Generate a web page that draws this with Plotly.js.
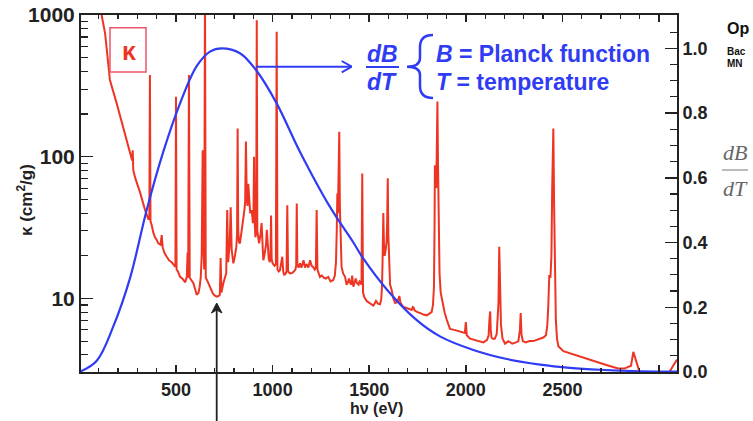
<!DOCTYPE html>
<html><head><meta charset="utf-8">
<script src="https://cdn.plot.ly/plotly-3.0.1.min.js"></script>
<style>body{margin:0;background:#fff}#chart{width:753px;height:421px}</style>
</head><body><div id="chart"></div>
<script>
// Opacity spectrum kappa(hv), cm^2/g
const redE=[100,115,133,158,193,227,255,268,273,276,
279,290,314,340,352,358,362,365,368,374,
383,391,400,408,420,426,431,440,452,465,
478,490,497,500,503,510,521,535,548,556,
560,563,567,571,580,590,600,607,612,616,
622,628,633,638,642,646,650,654,660,668,
680,690,700,711,720,727,731,735,745,755,
760,765,770,778,783,788,797,805,812,816,
819,822,826,831,840,848,854,858,862,866,
870,874,879,884,892,898,901,904,907,911,
915,918,921,925,930,937,943,948,952,957,
961,966,970,975,980,986,989,992,995,1000,
1010,1017,1021,1025,1032,1038,1045,1050,1055,1060,
1068,1072,1076,1080,1090,1100,1110,1118,1122,1125,
1128,1135,1142,1150,1160,1168,1175,1185,1194,1202,
1210,1218,1224,1228,1232,1240,1245,1255,1265,1275,
1288,1300,1314,1322,1328,1332,1335,1338,1341,1345,
1348,1352,1357,1365,1375,1383,1390,1395,1400,1405,
1410,1412,1415,1418,1425,1430,1437,1445,1450,1455,
1460,1464,1468,1475,1487,1495,1505,1513,1521,1528,
1535,1545,1556,1562,1566,1569,1573,1577,1580,1585,
1590,1593,1596,1599,1603,1608,1616,1625,1634,1645,
1650,1656,1662,1670,1677,1690,1700,1710,1720,1725,
1730,1735,1740,1750,1763,1780,1798,1810,1823,1830,
1835,1838,1840,1844,1847,1850,1853,1856,1859,1864,
1870,1880,1890,1901,1918,1940,1970,1995,2000,2005,
2022,2050,2091,2110,2118,2122,2126,2129,2133,2140,
2150,2160,2165,2169,2173,2177,2182,2190,2203,2220,
2240,2260,2272,2280,2284,2288,2295,2310,2330,2349,
2380,2401,2415,2422,2427,2432,2438,2443,2447,2453,
2457,2461,2466,2472,2479,2505,2539,2570,2608,2650,
2695,2740,2789,2820,2841,2855,2867,2898,2910,3040,
3052,3070,3093];
const redK=[1500,1000,742,348,238,163,118,100,94,111,
80,70,56,42,38,36,37,378,35,33,
29,27,26,24.5,24,28,23,21,19.7,18.5,
18,17,16.7,265,16,15.5,14.2,13.7,13,14.2,
21,14,378,14,13.5,12.8,11.5,10.6,10.8,10.9,
12,14,20,111,24,16,1500,14,13.5,12.8,
11.5,10.9,10.5,10.3,10.4,10.6,19.3,11,12.8,14.5,
15.1,42,18,24.5,44,22,17.7,20,23,28,
158,30,25,24.5,30,34,42,48,128,52,
45,64.5,48,40,42,34,38,100,35,27,
30,920,30,26,24.5,28,34,24,18.6,20,
21.8,24,30.5,22,19,18,20,38.5,19,17.7,
17,17.5,763,16,15.5,15.8,18,19.7,15.5,14.6,
15,15.5,45.5,15.5,15,15.1,15.5,16,17,46.7,
17.5,16.5,17.7,16.5,18.6,16.5,17.5,16.5,18.6,17,
16.7,16,16.5,42,16,15,14.2,14.5,14,13.8,
14.2,13.2,13.5,14.5,18,30,55,40,60,150,
45,25,16.7,15,14.2,12.5,13,13.8,12.8,12.5,
13.5,14.5,13,12.1,13,13.8,12.8,12.5,13.2,13,
12.5,76,11,10.2,9.6,9.4,9.3,9.1,8.9,9.2,
9.6,9.2,9.1,9.8,12,18,40,22,20,22,
25,35,70.6,28,18,12.5,11.5,10,9.3,9.4,
9.8,10.4,9.3,8.9,8.7,8.6,8.5,8.4,8.3,8.7,
8.6,8.2,8.1,8.0,7.9,7.7,7.6,7.8,8.0,9,
12,30,87,70,60,120,245,90,40,15,
11,9.2,8,7.1,6.1,6,5.85,5.7,6.8,5.5,
5.2,5.1,4.9,5.1,5.5,7,8.1,6,5.3,5.2,
5.2,5.6,7,9.3,23.2,9,6.5,5.2,4.8,5.0,
4.8,4.9,5.0,6,7.9,5.6,5.0,4.9,5.0,5.0,
5.2,5.3,5.5,6.5,9,14.6,14,20,60,158,
45,14,7,5.2,4.6,4.25,4.1,3.95,3.8,3.65,
3.5,3.35,3.2,3.2,3.3,3.35,4.2,3.0,2.7,2.7,
3.0,3.3,3.7];
// dB/dT weighting (normalised)
const blueE=[0,90,175,262,348,434,521,607,676,737,831,918,1021,1142,1297,1418,1470,1591,1746,1866,2039,2212,2384,2539,2695,2867,3093];
const blueV=[0,0.035,0.14,0.29,0.50,0.68,0.83,0.945,0.99,1.0,0.985,0.93,0.83,0.68,0.51,0.40,0.35,0.255,0.16,0.11,0.068,0.04,0.023,0.013,0.007,0.003,0.001];

const xTickVals=[500,1000,1500,2000,2500,3000];
const xTickText=['500','1000','1500','2000','2500',' '];
const yTickVals=[10,100,1000];
const yTickText=['10','100','1000'];
const y2TickVals=[0,0.2,0.4,0.6,0.8,1.0];
const y2TickText=['0.0','0.2','0.4','0.6','0.8','1.0'];

const L=81,T=15,W=596,H=357;
const px=x=>(x-L)/W, py=y=>(T+H-y)/H;
const FONT='Liberation Sans, Arial, sans-serif';
const SERIF='Liberation Serif, DejaVu Serif, serif';
const RED='#ee3524', BLUE='#2f3cf4', INK='#222';
const minorLog=[]; for (const d of [1,10,100]) for (let m=2;m<=9;m++) minorLog.push(m*d);

const traces=[
 {x:redE,y:redK,type:'scatter',mode:'lines',line:{color:RED,width:2},yaxis:'y',hoverinfo:'skip'},
 {x:blueE,y:blueV,type:'scatter',mode:'lines',line:{color:BLUE,width:2.2,shape:'spline'},yaxis:'y2',hoverinfo:'skip'}
];
const ann=(x,y,text,size,color,extra)=>Object.assign({xref:'paper',yref:'paper',x:px(x),y:py(y),xanchor:'center',yanchor:'middle',text:text,showarrow:false,font:{family:FONT,size:size,color:color}},extra||{});
const line=(x0,y0,x1,y1,color,w)=>({type:'line',xref:'paper',yref:'paper',x0:px(x0),y0:py(y0),x1:px(x1),y1:py(y1),line:{color:color,width:w}});
const P=(a,b)=>px(a)+','+py(b);
const layout={
 width:753,height:421,margin:{l:L,r:753-L-W,t:T,b:421-T-H,pad:0},
 showlegend:false,paper_bgcolor:'#fff',plot_bgcolor:'#fff',
 font:{family:FONT,color:INK},
 xaxis:{range:[8.3,3093],tickmode:'array',tickvals:xTickVals,ticktext:xTickText,
  ticks:'inside',ticklen:7,tickwidth:1.5,tickcolor:INK,
  minor:{dtick:100,tick0:0,ticks:'inside',ticklen:4,tickwidth:1.2,tickcolor:INK},
  showline:true,linecolor:INK,linewidth:2,mirror:'ticks',showgrid:false,zeroline:false,
  tickfont:{family:FONT,size:18,weight:'bold',color:INK}},
 yaxis:{type:'log',range:[0.481,3],tickmode:'array',tickvals:yTickVals,ticktext:yTickText,
  ticks:'inside',ticklen:12,tickwidth:1.5,tickcolor:INK,
  minor:{tickmode:'array',tickvals:minorLog,ticks:'inside',ticklen:7,tickwidth:1.2,tickcolor:INK},
  showline:true,linecolor:INK,linewidth:2,showgrid:false,zeroline:false,
  tickfont:{family:FONT,size:21,weight:'bold',color:INK}},
 yaxis2:{overlaying:'y',side:'right',range:[0,1.103],tickmode:'array',tickvals:y2TickVals,ticktext:y2TickText,
  ticks:'inside',ticklen:12,tickwidth:1.5,tickcolor:INK,
  minor:{dtick:0.05,tick0:0,ticks:'inside',ticklen:7,tickwidth:1.2,tickcolor:INK},
  showline:true,linecolor:INK,linewidth:2,showgrid:false,zeroline:false,
  tickfont:{family:FONT,size:18,weight:'bold',color:INK}},
 annotations:[
  ann(129,51,'<b>κ</b>',25,RED),
  ann(382,54,'<b><i>dB</i></b>',23,BLUE),
  ann(382,82,'<b><i>dT</i></b>',23,BLUE),
  ann(434,54,'<b><i>B</i> = Planck function</b>',23,BLUE,{xanchor:'left'}),
  ann(434,82,'<b><i>T</i> = temperature</b>',23,BLUE,{xanchor:'left'}),
  ann(376,408,'<b>hν (eV)</b>',16,INK),
  ann(25,200,'<b>κ (cm<sup>2</sup>/g)</b>',17,INK,{textangle:-90}),
  ann(725,28.5,'<b>Op</b>',16,'#111',{xanchor:'left'}),
  ann(725,51.5,'<b>Bac</b>',10,'#111',{xanchor:'left'}),
  ann(725,63.5,'<b>MN</b>',10,'#111',{xanchor:'left'}),
  ann(735,153,'<i>dB</i>',21,'#666',{font:{family:SERIF,size:22,color:'#666'}}),
  ann(735,188,'<i>dT</i>',21,'#666',{font:{family:SERIF,size:22,color:'#666'}})
 ],
 shapes:[
  {type:'rect',xref:'paper',yref:'paper',x0:px(110),x1:px(146),y0:py(72),y1:py(27.7),line:{color:'#ea5567',width:1.5}},
  line(366,67,399,67,BLUE,2),
  {type:'path',xref:'paper',yref:'paper',line:{color:BLUE,width:2.5},
   path:'M'+P(433,35)+' Q'+P(420,35)+' '+P(420,47)+' L'+P(420,58)+' Q'+P(420,66.7)+' '+P(407,66.7)+' Q'+P(420,66.7)+' '+P(420,75)+' L'+P(420,86)+' Q'+P(420,98)+' '+P(433,98)},
  line(256,66.7,351.7,66.7,BLUE,2),
  line(351.7,66.7,341.7,61,BLUE,2),
  line(351.7,66.7,341.7,72.4,BLUE,2),
  line(216.7,306,216.7,421,INK,1.8),
  {type:'path',xref:'paper',yref:'paper',line:{color:INK,width:1},fillcolor:INK,
   path:'M'+P(216.7,303)+' L'+P(211.5,313)+' L'+P(216.7,310)+' L'+P(222,313)+' Z'},
  line(722,170,748,170,'#777',1)
 ]
};
Plotly.newPlot('chart',traces,layout,{staticPlot:true,displayModeBar:false});
</script></body></html>
